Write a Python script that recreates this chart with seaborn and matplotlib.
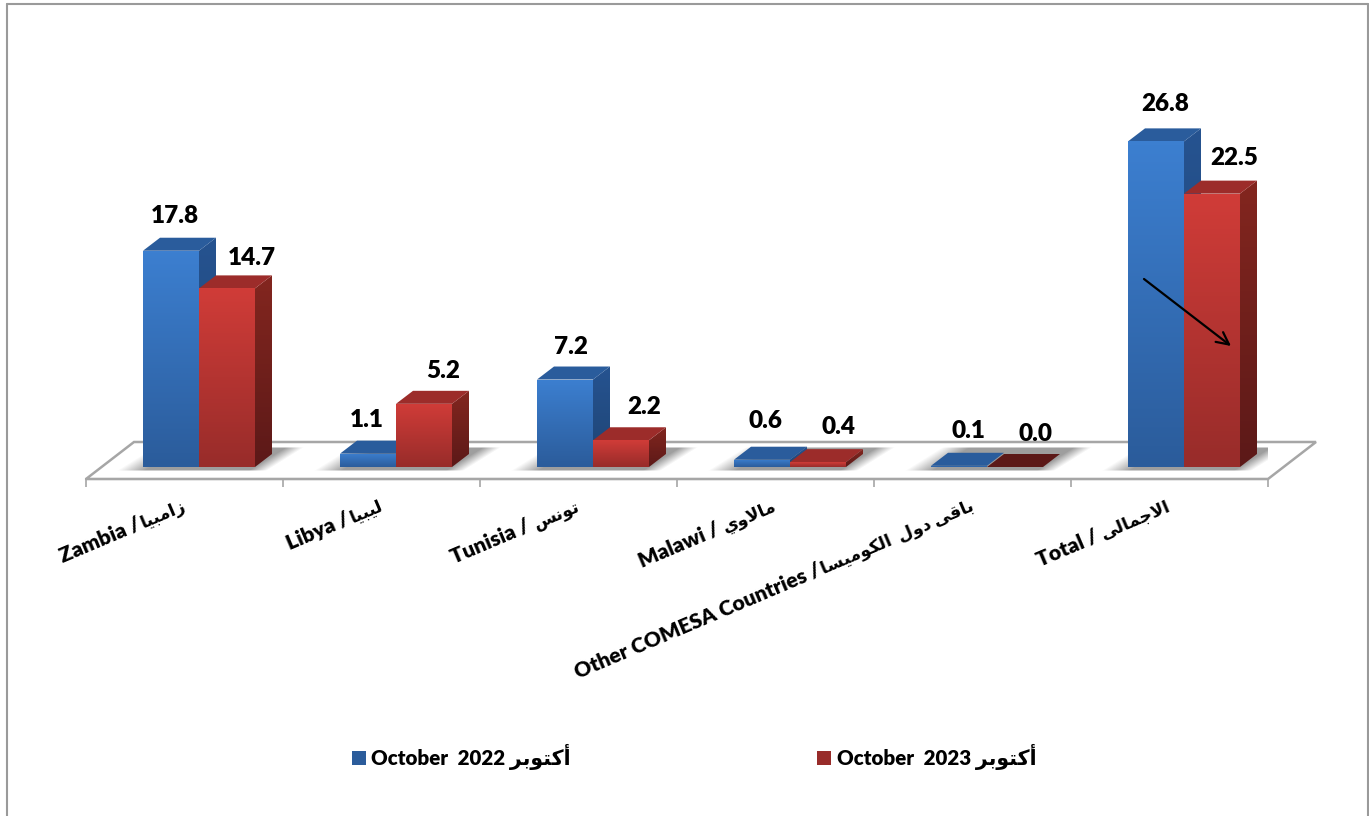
import numpy as np
import pandas as pd
import matplotlib
matplotlib.use("Agg")
import matplotlib.pyplot as plt
from matplotlib.patches import Polygon
from matplotlib.transforms import Affine2D, ScaledTranslation
import seaborn as sns

W, H = 1369, 816

categories_en = ["Zambia /", "Libya /", "Tunisia /", "Malawi /", "Other COMESA Countries /", "Total /"]
categories_ar = ["زامبيا", "ليبيا", "تونس", "مالاوي", "باقى دول  الكوميسا", "الاجمالى"]
oct_2022 = [17.8, 1.1, 7.2, 0.6, 0.1, 26.8]
oct_2023 = [14.7, 5.2, 2.2, 0.4, 0.0, 22.5]
series_en = ["October  2022 ", "October  2023 "]
series_ar = "أكتوبر"

# hand nudges of the value labels, in pixels
label_dx = [[4, -1, 6, 3, 9, 9], [25, 19, 23, 21, 21, 22]]
label_dy = [[35, 34, 33, 39, 35, 37], [30, 33, 33, 35, 33, 36]]
# space between the english and the arabic part of a tick label
label_gap = [1, 1, 5, 5, 1, 5]

# iso, final, initial, medial
AR_FORMS = {
    "ا": (0xFE8D, 0xFE8E), "أ": (0xFE83, 0xFE84), "د": (0xFEA9, 0xFEAA),
    "ر": (0xFEAD, 0xFEAE), "ز": (0xFEAF, 0xFEB0), "و": (0xFEED, 0xFEEE),
    "ى": (0xFEEF, 0xFEF0), "\ufefb": (0xFEFB, 0xFEFC),
    "ب": (0xFE8F, 0xFE90, 0xFE91, 0xFE92), "ت": (0xFE95, 0xFE96, 0xFE97, 0xFE98),
    "ج": (0xFE9D, 0xFE9E, 0xFE9F, 0xFEA0), "س": (0xFEB1, 0xFEB2, 0xFEB3, 0xFEB4),
    "ق": (0xFED5, 0xFED6, 0xFED7, 0xFED8), "ك": (0xFED9, 0xFEDA, 0xFEDB, 0xFEDC),
    "ل": (0xFEDD, 0xFEDE, 0xFEDF, 0xFEE0), "م": (0xFEE1, 0xFEE2, 0xFEE3, 0xFEE4),
    "ن": (0xFEE5, 0xFEE6, 0xFEE7, 0xFEE8), "ي": (0xFEF1, 0xFEF2, 0xFEF3, 0xFEF4),
}


def shape_ar(text):
    # matplotlib does no arabic shaping, so pick the joined forms and reverse by hand
    text = text.replace("لا", "\ufefb")
    out = []
    for i, ch in enumerate(text):
        if ch not in AR_FORMS:
            out.append(ch)
            continue
        forms = AR_FORMS[ch]
        prev = text[i - 1] if i > 0 else " "
        nxt = text[i + 1] if i + 1 < len(text) else " "
        joins_prev = prev in AR_FORMS and len(AR_FORMS[prev]) == 4
        joins_next = nxt in AR_FORMS and len(forms) == 4
        if joins_prev and joins_next:
            idx = 3
        elif joins_next:
            idx = 2
        elif joins_prev:
            idx = 1
        else:
            idx = 0
        out.append(chr(forms[idx]))
    return "".join(reversed(out))


ser_labels = [s + shape_ar(series_ar) for s in series_en]

df = pd.DataFrame({
    "category": categories_en * 2,
    "value": oct_2022 + oct_2023,
    "series": [ser_labels[0]] * 6 + [ser_labels[1]] * 6,
})

sns.set_theme(style="white")
plt.rcParams["font.family"] = ["Lato", "DejaVu Sans"]
plt.rcParams["font.weight"] = 800
plt.rcParams["text.color"] = "black"

BLUE = {"front": ("#3c7fd0", "#2b5c9b"), "side": ("#265390", "#1e4474"), "top": "#2a5c9c"}
RED = {"front": ("#d03c38", "#982c2a"), "side": ("#83261f", "#5c1918"), "top": "#9c2c2a"}
DEPTH = (17, 13)
ROT = 23
PX_PER_UNIT = 12.15

fig = plt.figure(figsize=(W / 100, H / 100), dpi=100, facecolor="white")
# axes runs from the first to the last tick of the floor front edge
ax = fig.add_axes([86 / W, (H - 479) / H, (1268 - 86) / W, (479 - 40) / H])
ax.patch.set_alpha(0)
px = Affine2D().scale(1, -1).translate(0, H)

sns.barplot(data=df, x="category", y="value", hue="series", ax=ax, width=0.5685, gap=0,
            palette=[BLUE["front"][1], RED["front"][1]], saturation=1, linewidth=0)

ax.set_xlim(-0.5736, 5.4264)
ax.set_ylim(-12 / PX_PER_UNIT, 427 / PX_PER_UNIT)
ax.set_xlabel("")
ax.set_ylabel("")
ax.set_yticks([])
for s in ["top", "left", "right"]:
    ax.spines[s].set_visible(False)
ax.spines["bottom"].set_color("#a6a6a6")
ax.spines["bottom"].set_linewidth(1.5)


def to_px(x, y):
    dx, dy = ax.transData.transform((x, y))
    return dx, H - dy


def grad_fill(corners, c_top, c_bot, z):
    poly = Polygon(corners, closed=True, transform=px, facecolor="none", edgecolor="none", clip_on=False)
    ax.add_patch(poly)
    xs = [c[0] for c in corners]
    ys = [c[1] for c in corners]
    cmap = matplotlib.colors.LinearSegmentedColormap.from_list("g", [c_top, c_bot])
    im = ax.imshow(np.linspace(0, 1, 64).reshape(-1, 1), cmap=cmap, aspect="auto", interpolation="bilinear",
                   extent=(min(xs), max(xs), max(ys), min(ys)), transform=px, zorder=z)
    im.set_clip_box(None)
    im.set_clip_path(poly)


# floor, drawn in picture pixels
floor = [(86, 479), (1268, 479), (1316, 442), (134, 442)]
ax.add_patch(Polygon(floor, closed=True, transform=px, facecolor="white", edgecolor="#a6a6a6",
                     linewidth=1.8, zorder=0.5, clip_on=False))

# soft shadow behind each group
for i, (blue, red) in enumerate(zip(ax.containers[0], ax.containers[1])):
    left, _ = to_px(blue.get_x(), 0)
    right, _ = to_px(red.get_x() + red.get_width(), 0)
    x0, x1, y0, y1 = int(left) - 40, int(right) + 90, 446, 471
    xx, yy = np.meshgrid(np.arange(x0, x1), np.arange(y0, y1))
    u = xx + (yy - y1) * 1.6  # slanted with the floor
    a = np.clip((u - (left - 28)) / 28, 0, 1) * np.clip(((right + 10) - u) / 18, 0, 1)
    a = a * np.clip((yy - y0) / 2, 0, 1) * np.clip((y1 - yy) / 2, 0, 1)
    rgba = np.zeros(xx.shape + (4,))
    rgba[..., :3] = 0.62
    rgba[..., 3] = a
    ax.imshow(rgba, aspect="auto", extent=(x0, x1, y1, y0), transform=px, zorder=0.6)

# 3d faces around the seaborn bars
for k, (cont, col) in enumerate(zip(ax.containers[:2], [BLUE, RED])):
    base_z = 2 + k
    for bar in cont:
        x0, y_b = to_px(bar.get_x(), 0)
        x1, y_t = to_px(bar.get_x() + bar.get_width(), bar.get_height())
        dx, dy = DEPTH
        if bar.get_height() > 0.3:
            grad_fill([(x1, y_t), (x1 + dx, y_t - dy), (x1 + dx, y_b - dy), (x1, y_b)], col["side"][0], col["side"][1], base_z + 0.1)
        top_col = col["top"] if bar.get_height() > 0.05 else col["side"][1]
        ax.add_patch(Polygon([(x0, y_t), (x1, y_t), (x1 + dx, y_t - dy), (x0 + dx, y_t - dy)], closed=True,
                             transform=px, facecolor=top_col, edgecolor="none", zorder=base_z + 0.15))
        bar.set_zorder(base_z + 0.2)
        if bar.get_height() > 0:
            grad_fill([(x0, y_t), (x1, y_t), (x1, y_b), (x0, y_b)], col["front"][0], col["front"][1], base_z + 0.3)

# value labels
for k, cont in enumerate(ax.containers[:2]):
    anns = ax.bar_label(cont, fmt="%.1f", fontsize=17.5, color="black", zorder=10)
    for ann, ldx, ldy in zip(anns, label_dx[k], label_dy[k]):
        ann.set_va("center")
        ann.xyann = (ldx * 0.72, ldy * 0.72)

# axis: boundary ticks and rotated labels, english as tick label with the arabic after it
ax.set_xticks(np.arange(6))
ax.set_xticklabels(categories_en)
ax.set_xticks(np.arange(-0.5, 5.6, 1) - 0.0736, minor=True)
ax.tick_params(axis="x", which="major", length=0, pad=0, labelsize=15.3, labelcolor="black")
ax.tick_params(axis="x", which="minor", length=5.5, width=1.2, color="#a6a6a6", bottom=True)

renderer = fig.canvas.get_renderer()
for i, lab in enumerate(ax.get_xticklabels()):
    cx, _ = to_px(i, 0)
    end_x, end_y = cx - 12, 510
    t = ax.text(end_x, end_y, shape_ar(categories_ar[i]), transform=px, fontsize=12.5, ha="right", va="baseline",
                rotation_mode="anchor", clip_on=False)
    run = t.get_window_extent(renderer).width + label_gap[i]
    t.set_rotation(ROT)
    lat_x = end_x - run * np.cos(np.radians(ROT))
    lat_y = end_y + run * np.sin(np.radians(ROT))
    lab.set_rotation(ROT)
    lab.set_ha("right")
    lab.set_va("baseline")
    lab.set_rotation_mode("anchor")
    # tick label anchor sits on the axis line at the category centre
    lab.set_transform(lab.get_transform() + ScaledTranslation((lat_x - cx) / 100, -(lat_y - 479) / 100, fig.dpi_scale_trans))

sns.move_legend(ax, "center left", bbox_to_anchor=(352 / W, (H - 757) / H), bbox_transform=fig.transFigure,
                ncol=2, title=None, frameon=False, fontsize=14.8, handlelength=0.68, handleheight=0.68,
                handletextpad=0.25, columnspacing=12, borderpad=0, borderaxespad=0)
for txt in ax.get_legend().get_texts():
    txt.set_color("black")

# gradient over the legend keys, like the bars
fig.canvas.draw()
for patch, col in zip(ax.get_legend().get_patches(), [BLUE, RED]):
    bb = patch.get_window_extent()
    y0, y1 = H - bb.y1, H - bb.y0
    grad_fill([(bb.x0, y0), (bb.x1, y0), (bb.x1, y1), (bb.x0, y1)], col["front"][0], col["front"][1], 6)

# trend arrow on the total bars
ax.annotate("", xy=(1231, 346), xytext=(1144, 279), xycoords=px, textcoords=px, zorder=11,
            arrowprops=dict(arrowstyle="->", color="black", lw=1.6, mutation_scale=22, shrinkA=0, shrinkB=0))

# outer frame of the picture
for seg in [[(6.5, 4), (1367.5, 4)], [(6.5, 4), (6.5, H)], [(1367.5, 4), (1367.5, H)]]:
    ax.plot(*zip(*seg), transform=px, color="#9a9a9a", lw=1.5, clip_on=False, zorder=0.2)

fig.savefig("out.png", dpi=100)
